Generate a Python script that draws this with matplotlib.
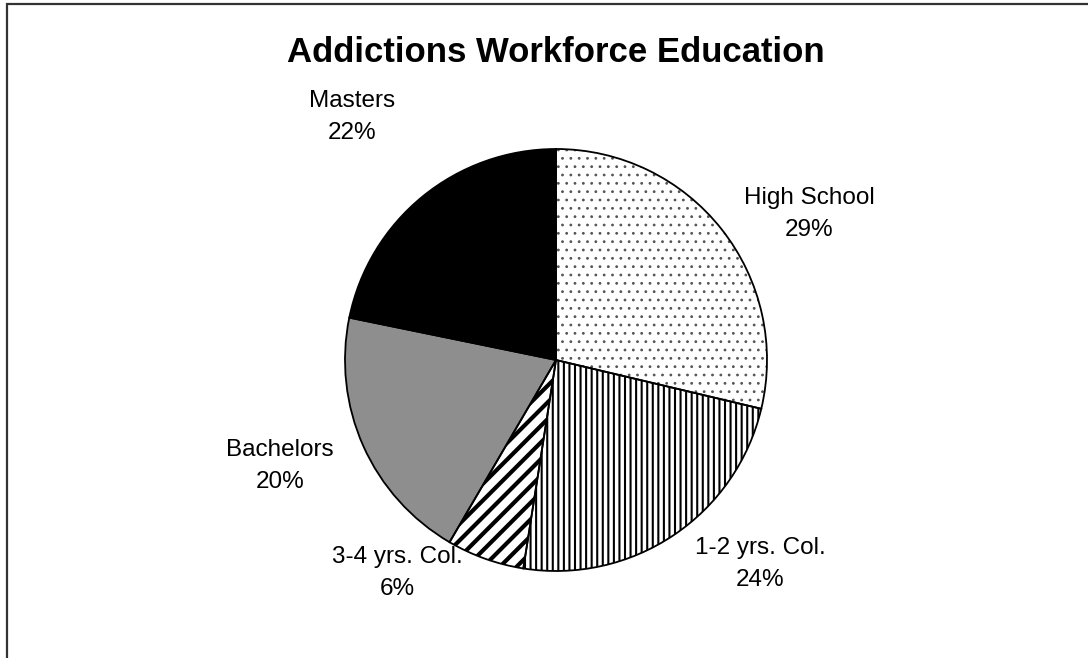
import matplotlib.pyplot as plt
from matplotlib.patches import Rectangle

plt.rcParams["font.family"] = ["Liberation Sans", "DejaVu Sans"]

categories = ["High School", "1-2 yrs. Col.", "3-4 yrs. Col.", "Bachelors", "Masters"]
shares = [29, 24, 6, 20, 22]
faces = ["white", "white", "white", "#8e8e8e", "black"]
hatches = ["..", "|||", "//", None, None]
hatch_cols = ["#555555", "black", "black", "black", "black"]
hatch_lws = [0.8, 1.5, 3.0, 1.0, 1.0]
label_pos = [(809, 214), (760, 564), (397, 573), (280, 466), (352, 117)]  # pixel centres

W, H = 1088, 658
fig = plt.figure(figsize=(W / 100, H / 100), dpi=100)
fig.patches.append(Rectangle((6.5 / W, -0.1), 1.2, (H - 3.5) / H + 0.1, transform=fig.transFigure,
                             fill=False, edgecolor="#333333", lw=1.6))

cx, cy, r = 556, 360, 211
ax = fig.add_axes([(cx - r) / W, 1 - (cy + r) / H, 2 * r / W, 2 * r / H])
# fills + hatches
wedges, _ = ax.pie(shares, startangle=90, counterclock=False, colors=faces,
                   wedgeprops=dict(linewidth=0))
for w, h, hc, hl in zip(wedges, hatches, hatch_cols, hatch_lws):
    w.set_edgecolor(hc)
    if h:
        w.set_hatch(h)
        w.set_hatch_linewidth(hl)
# outlines
ax.pie(shares, startangle=90, counterclock=False,
       wedgeprops=dict(fill=False, edgecolor="black", linewidth=1.3))
ax.set_xlim(-1, 1); ax.set_ylim(-1, 1); ax.set_aspect("auto")

for name, s, (x, y) in zip(categories, shares, label_pos):
    fig.text(x / W, 1 - y / H, f"{name}\n{s}%", ha="center", va="center",
             fontsize=17.5, linespacing=1.55)

fig.text(556 / W, 1 - 53 / H, "Addictions Workforce Education", ha="center", va="center",
         fontsize=25, fontweight="bold")

fig.savefig("out.png", dpi=100)
